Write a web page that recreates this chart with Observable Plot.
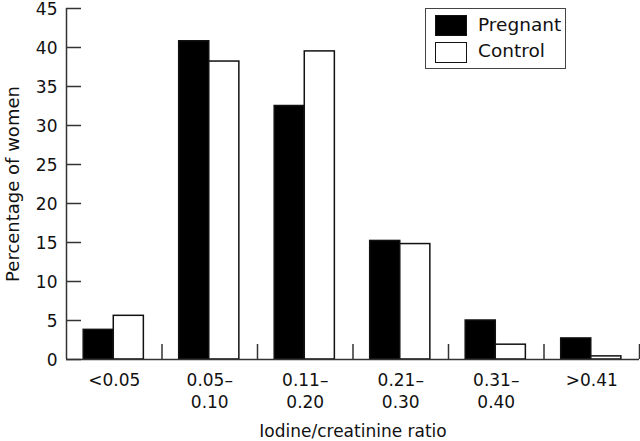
<!DOCTYPE html>
<html>
<head>
<meta charset="utf-8">
<script src="https://cdn.jsdelivr.net/npm/d3@7"></script>
<script src="https://cdn.jsdelivr.net/npm/@observablehq/plot@0.6"></script>
<style>
  html, body { margin: 0; padding: 0; background: #fff; }
  #wrap { position: relative; width: 640px; height: 441px; font-family: "DejaVu Sans", sans-serif; }
  #legend { position: absolute; left: 425px; top: 8px; width: 139px; height: 59px; border: 1.5px solid #444; background: #fff; }
  .sw { position: absolute; left: 9px; width: 30px; height: 19px; border: 1.5px solid #111; }
  .lt { position: absolute; left: 52px; font-size: 18.5px; color: #111; line-height: 20px; }
</style>
</head>
<body>
<div id="wrap">
  <div id="chart"></div>
  <div id="legend"></div>
</div>
<script>
const categories = ["<0.05", "0.05–\n0.10", "0.11–\n0.20", "0.21–\n0.30", "0.31–\n0.40", ">0.41"];
const series = ["Pregnant", "Control"];
const pregnant = [3.8, 40.8, 32.5, 15.2, 5.0, 2.7];
const control = [5.6, 38.2, 39.5, 14.8, 1.9, 0.4];
const yTicks = [0, 5, 10, 15, 20, 25, 30, 35, 40, 45];
const xLabel = "Iodine/creatinine ratio";
const yLabel = "Percentage of women";

const seriesFill = {Pregnant: "#000", Control: "#fff"};
const seriesOffset = {Pregnant: [0.18, 0.495], Control: [0.495, 0.81]};

const rows = [];
categories.forEach((c, i) => {
  rows.push({i, series: "Pregnant", value: pregnant[i]});
  rows.push({i, series: "Control", value: control[i]});
});
const boundaries = categories.map((c, i) => i + 1);
const labelRows = categories.map((c, i) => ({x: i + 0.5, label: c}));

const W = 640, H = 441;
const mL = 66, mR = 1, mT = 8, mB = 82;
const frameW = W - mL - mR, frameH = H - mT - mB;

const chart = Plot.plot({
  width: W,
  height: H,
  marginLeft: mL,
  marginRight: mR,
  marginTop: mT,
  marginBottom: mB,
  style: {fontFamily: "DejaVu Sans, sans-serif", fontSize: "17px", color: "#111", background: "#fff", overflow: "visible"},
  x: {domain: [0, categories.length], axis: null},
  y: {domain: [0, 45], axis: null},
  marks: [
    Plot.rectY(rows, {
      x1: d => d.i + seriesOffset[d.series][0],
      x2: d => d.i + seriesOffset[d.series][1],
      y: "value",
      fill: d => seriesFill[d.series],
      stroke: "#111",
      strokeWidth: 1.5
    }),
    Plot.ruleX([0], {stroke: "#333", strokeWidth: 1.5}),
    Plot.ruleY([0], {stroke: "#333", strokeWidth: 1.5}),
    Plot.ruleY(yTicks, {stroke: "#333", strokeWidth: 1.5, insetRight: frameW - 15}),
    Plot.ruleX(boundaries, {stroke: "#333", strokeWidth: 1.5, insetTop: frameH - 15}),
    Plot.axisY({ticks: yTicks, tickSize: 0, tickPadding: 9, label: null, fontSize: 17, dy: 1.5}),
    Plot.text(labelRows, {x: "x", y: () => 0, text: "label", lineAnchor: "top", dy: 11, lineHeight: 1.3, fontSize: 17, fill: "#111"}),
    Plot.text([xLabel], {frameAnchor: "bottom", dy: 72, fontSize: 17, fill: "#111", lineAnchor: "middle"}),
    Plot.text([yLabel], {frameAnchor: "left", dx: -53, rotate: -90, fontSize: 18, fill: "#111", lineAnchor: "middle", textAnchor: "middle"})
  ]
});
document.getElementById("chart").appendChild(chart);

const legend = document.getElementById("legend");
const swTop = {Pregnant: 6, Control: 33};
const txtTop = {Pregnant: 6, Control: 32};
series.forEach(s => {
  const sw = document.createElement("div");
  sw.className = "sw";
  sw.style.top = swTop[s] + "px";
  sw.style.background = seriesFill[s];
  legend.appendChild(sw);
  const t = document.createElement("div");
  t.className = "lt";
  t.style.top = txtTop[s] + "px";
  t.textContent = s;
  legend.appendChild(t);
});
</script>
</body>
</html>
